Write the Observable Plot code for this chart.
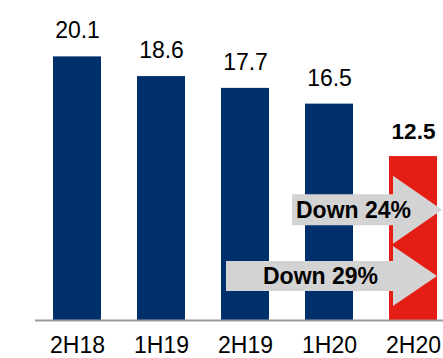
<!DOCTYPE html>
<html><head><meta charset="utf-8">
<script src="https://cdn.jsdelivr.net/npm/d3@7"></script>
<script src="https://cdn.jsdelivr.net/npm/@observablehq/plot@0.6"></script>
<style>body{margin:0;background:#fff;}</style>
</head><body><div id="chart"></div>
<script>
const periods = ["2H18", "1H19", "2H19", "1H20", "2H20"];
const values = [20.1, 18.6, 17.7, 16.5, 12.5];
const highlight = "2H20";
const arrowLabels = ["Down 24%", "Down 29%"];
const arrowFrom = ["1H20", "2H19"];
const arrowLevel = [8.4, 3.35];

const data = periods.map((p, i) => ({period: p, value: values[i]}));
const arrows = arrowLabels.map((l, i) => ({label: l, from: arrowFrom[i], level: arrowLevel[i]}));

const FONT = "'Liberation Sans', Arial, sans-serif";
const NAVY = "#00306b", RED = "#e41e14", GREY = "#d3d3d3";

// pixel geometry (style) for each block arrow
const arrowGeom = [
  {start: -13, tip: 5, head: 34, body: 15.5},
  {start: 5, tip: 0, head: 30, body: 15}
];

function arrowMark(index, scales) {
  const x = scales.x, y = scales.y;
  const bw = x.bandwidth();
  const g = d3.create("svg:g");
  arrows.forEach((a, i) => {
    const geo = arrowGeom[i];
    const cy = y(a.level);
    const x0 = x(a.from) + geo.start;
    const xb = x(highlight) + 4;
    const xt = x(highlight) + bw + geo.tip;
    const pts = [
      [x0, cy - geo.body], [xb, cy - geo.body], [xb, cy - geo.head], [xt, cy],
      [xb, cy + geo.head], [xb, cy + geo.body], [x0, cy + geo.body]
    ];
    g.append("path").attr("d", "M" + pts.map(p => p.join(",")).join("L") + "Z").attr("fill", GREY);
    g.append("text")
      .attr("x", (x0 + xb) / 2 + 11).attr("y", cy).attr("dy", "0.36em")
      .attr("text-anchor", "middle").attr("font-weight", "bold")
      .attr("font-size", 23).attr("font-family", FONT).attr("fill", "#000")
      .text(a.label);
  });
  return g.node();
}

const chart = Plot.plot({
  width: 443, height: 358,
  marginTop: 0, marginBottom: 38, marginLeft: 35, marginRight: 0,
  style: {fontFamily: FONT, fontSize: "23px", background: "#fff", color: "#000"},
  x: {domain: periods, paddingInner: 0.43, paddingOuter: 0.1435, align: 0.75, label: null, tickSize: 0, tickPadding: 16.5},
  y: {domain: [0, 24.4], axis: null},
  marks: [
    Plot.barY(data.filter(d => d.period !== highlight), {x: "period", y: "value", fill: NAVY}),
    Plot.barY(data.filter(d => d.period === highlight), {x: "period", y: "value", fill: RED}),
    Plot.ruleY([0], {stroke: "#999", strokeWidth: 2}),
    Plot.text(data.filter(d => d.period !== highlight), {x: "period", y: "value", text: d => d.value.toFixed(1), dy: -18.5, lineAnchor: "bottom", fontSize: 23, fill: "#000"}),
    Plot.text(data.filter(d => d.period === highlight), {x: "period", y: "value", text: d => d.value.toFixed(1), dy: -17.5, lineAnchor: "bottom", fontSize: 22.5, fontWeight: "bold", fill: "#000"}),
    arrowMark
  ]
});
document.getElementById("chart").append(chart);
</script>
</body></html>
